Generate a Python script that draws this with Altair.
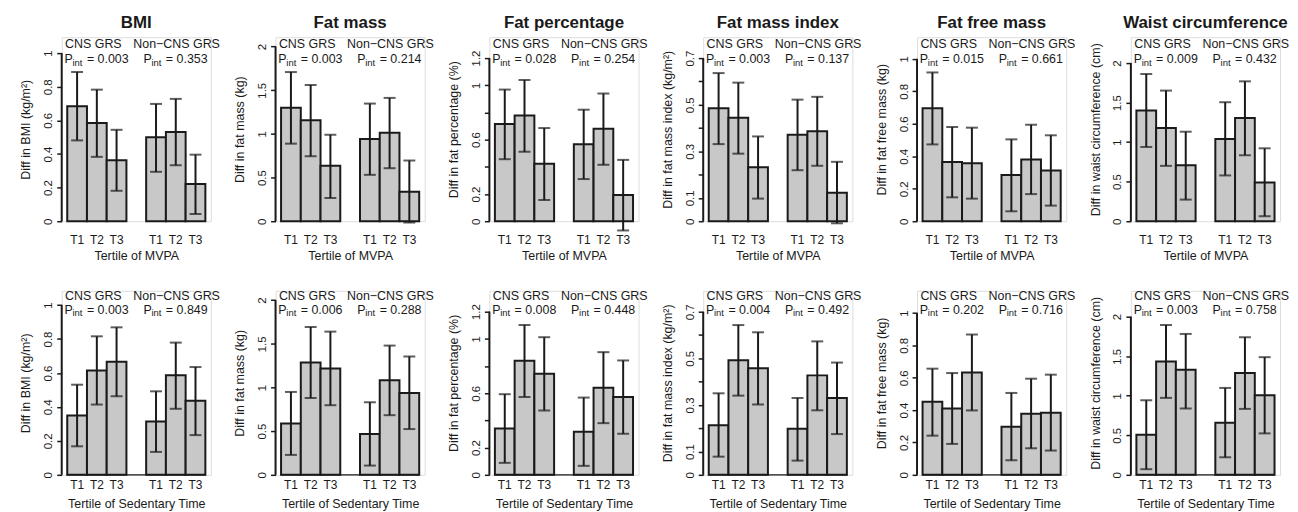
import altair as alt
import pandas as pd

# ---------------- data ----------------
measures = ["BMI", "Fat mass", "Fat percentage", "Fat mass index",
            "Fat free mass", "Waist circumference"]
y_titles = ["Diff in BMI (kg/m²)", "Diff in fat mass (kg)",
            "Diff in fat percentage (%)", "Diff in fat mass index (kg/m²)",
            "Diff in fat free mass (kg)", "Diff in waist circumference (cm)"]
x_titles = ["Tertile of MVPA", "Tertile of Sedentary Time"]
groups = ["CNS GRS", "Non−CNS GRS"]
tertiles = ["T1", "T2", "T3"]

# order in each list: CNS T1, T2, T3, Non-CNS T1, T2, T3
mvpa_est = [[0.684, 0.584, 0.363, 0.499, 0.531, 0.221],
            [1.298, 1.157, 0.634, 0.941, 1.013, 0.338],
            [0.715, 0.778, 0.422, 0.566, 0.680, 0.193],
            [0.485, 0.444, 0.232, 0.371, 0.386, 0.122],
            [0.696, 0.365, 0.357, 0.284, 0.380, 0.312],
            [1.400, 1.178, 0.709, 1.040, 1.304, 0.491]]
mvpa_lo = [[0.481, 0.383, 0.181, 0.294, 0.333, 0.043],
           [0.888, 0.744, 0.266, 0.531, 0.607, -0.015],
           [0.456, 0.510, 0.156, 0.310, 0.415, -0.068],
           [0.331, 0.290, 0.097, 0.219, 0.238, -0.009],
           [0.473, 0.147, 0.139, 0.061, 0.167, 0.096],
           [0.939, 0.700, 0.273, 0.579, 0.834, 0.063]]
mvpa_hi = [[0.888, 0.783, 0.544, 0.698, 0.728, 0.396],
           [1.708, 1.560, 0.990, 1.347, 1.412, 0.695],
           [0.968, 1.039, 0.685, 0.820, 0.939, 0.451],
           [0.636, 0.595, 0.364, 0.522, 0.534, 0.255],
           [0.916, 0.580, 0.576, 0.504, 0.594, 0.529],
           [1.862, 1.652, 1.132, 1.505, 1.769, 0.922]]

sed_est = [[0.350, 0.615, 0.666, 0.314, 0.586, 0.436],
           [0.588, 1.287, 1.218, 0.467, 1.082, 0.937],
           [0.341, 0.839, 0.744, 0.317, 0.641, 0.573],
           [0.213, 0.492, 0.458, 0.198, 0.427, 0.330],
           [0.451, 0.410, 0.633, 0.297, 0.377, 0.383],
           [0.507, 1.434, 1.329, 0.658, 1.287, 1.006]]
sed_lo = [[0.168, 0.414, 0.463, 0.135, 0.389, 0.234],
          [0.228, 0.880, 0.797, 0.106, 0.683, 0.524],
          [0.088, 0.573, 0.473, 0.066, 0.380, 0.302],
          [0.078, 0.340, 0.302, 0.061, 0.277, 0.175],
          [0.242, 0.191, 0.398, 0.090, 0.164, 0.150],
          [0.071, 0.973, 0.839, 0.222, 0.834, 0.524]]
sed_hi = [[0.531, 0.816, 0.869, 0.492, 0.779, 0.635],
          [0.949, 1.693, 1.640, 0.831, 1.480, 1.355],
          [0.593, 1.102, 1.012, 0.568, 0.902, 0.841],
          [0.350, 0.643, 0.612, 0.330, 0.573, 0.482],
          [0.656, 0.629, 0.867, 0.506, 0.594, 0.619],
          [0.943, 1.895, 1.782, 1.099, 1.740, 1.488]]

mvpa_p = [["0.003", "0.353"], ["0.003", "0.214"], ["0.028", "0.254"],
          ["0.003", "0.137"], ["0.015", "0.661"], ["0.009", "0.432"]]
sed_p = [["0.003", "0.849"], ["0.006", "0.288"], ["0.008", "0.448"],
         ["0.004", "0.492"], ["0.202", "0.716"], ["0.003", "0.758"]]

y_ticks = [[0, 0.2, 0.4, 0.6, 0.8, 1],
           [0, 0.5, 1, 1.5, 2],
           [0, 0.2, 0.4, 0.6, 0.8, 1, 1.2],
           [0, 0.1, 0.2, 0.3, 0.4, 0.5, 0.6, 0.7],
           [0, 0.2, 0.4, 0.6, 0.8, 1],
           [0, 0.5, 1, 1.5, 2]]
y_unlabeled = [[], [], [0.4, 0.8], [0.2, 0.4, 0.6], [], []]

# upper end of the y range of each panel (R ylim)
y_lim = [[1.095, 2.107, 1.353, 0.790, 1.133, 2.327],
         [1.084, 2.107, 1.353, 0.790, 1.137, 2.327]]

EST = [mvpa_est, sed_est]
LO = [mvpa_lo, sed_lo]
HI = [mvpa_hi, sed_hi]
PV = [mvpa_p, sed_p]

# ---------------- styling ----------------
FONT = "Liberation Sans"
INK = "#1a1a1a"
FILL = "#c8c8c8"
W, H = 150, 185

slots = [f"{groups[0]} {t}" for t in tertiles] + ["gap"] + \
        [f"{groups[1]} {t}" for t in tertiles]
bar_slots = [s for s in slots if s != "gap"]

row_cfg = [
    dict(lab_pad=18, title_y=35, grp_y=7.3, p_y=22.0),
    dict(lab_pad=10, title_y=29, grp_y=5.0, p_y=19.3),
]


def panel(r, c):
    cfg = row_cfg[r]
    df = pd.DataFrame({"slot": bar_slots, "est": EST[r][c],
                       "lo": LO[r][c], "hi": HI[r][c]})
    xs = alt.Scale(domain=slots, paddingInner=0, paddingOuter=0.28)
    ys = alt.Scale(domain=[0, y_lim[r][c]], nice=False, zero=False)

    hidden = y_unlabeled[c]
    if hidden:
        cond = " || ".join(f"abs(datum.value - {h}) < 1e-9" for h in hidden)
        lab_expr = f"({cond}) ? '' : datum.label"
    else:
        lab_expr = "datum.label"

    yaxis = alt.Axis(values=y_ticks[c], format="~g", labelExpr=lab_expr,
                     domain=False, grid=False, tickSize=5, tickWidth=1.5,
                     tickColor=INK, labelAngle=270, labelAlign="center",
                     labelBaseline="bottom", labelPadding=3,
                     labelOverlap=False, labelFlush=False,
                     labelFontSize=11.5, labelColor=INK, labelFont=FONT,
                     title=y_titles[c], titleX=-36, titleBaseline="middle",
                     titleFontSize=12.5, titleFontWeight="normal",
                     titleColor=INK, titleFont=FONT)
    xaxis = alt.Axis(labelExpr="datum.value == 'gap' ? '' : slice(datum.value, -2)",
                     domain=False, ticks=False, tickSize=0, labelAngle=0,
                     labelPadding=cfg["lab_pad"], labelBaseline="middle",
                     labelFontSize=12, labelColor=INK, labelOverlap=False,
                     labelFont=FONT, grid=False,
                     title=x_titles[r], titleY=cfg["title_y"],
                     titleBaseline="middle", titleFontSize=12.5,
                     titleFontWeight="normal", titleColor=INK, titleFont=FONT)

    X = alt.X("slot:N", scale=xs, sort=slots, axis=xaxis)

    def Y(field):
        return alt.Y(field, scale=ys, axis=yaxis)

    base = alt.Chart(df)
    bars = base.mark_bar(fill=FILL, stroke=INK, strokeWidth=2).encode(
        x=X, y=Y("est:Q"))
    err = base.mark_rule(color=INK, strokeWidth=2).encode(
        x=X, y=Y("lo:Q"), y2="hi:Q")
    cap_hi = base.mark_tick(color=INK, orient="horizontal", size=12,
                            thickness=2).encode(x=X, y=Y("hi:Q"))
    cap_lo = base.mark_tick(color=INK, orient="horizontal", size=12,
                            thickness=2).encode(x=X, y=Y("lo:Q"))

    ax_df = pd.DataFrame({"lo": [y_ticks[c][0]], "hi": [y_ticks[c][-1]]})
    ax_line = alt.Chart(ax_df).mark_rule(color=INK, strokeWidth=2).encode(
        x=alt.value(0), y=Y("lo:Q"), y2="hi:Q")

    layers = [bars, err, cap_hi, cap_lo, ax_line]

    if r == 1:
        zero_df = pd.DataFrame({"est": [0]})
        baseline = alt.Chart(zero_df).mark_rule(color=INK, strokeWidth=1.2).encode(
            x=alt.value(5), x2=alt.value(145), y=Y("est:Q"))
        layers.insert(0, baseline)

    tdf = pd.DataFrame({"slot": [f"{g} T2" for g in groups],
                        "grp": groups,
                        "pval": [f"= {p}" for p in PV[r][c]]})
    tbase = alt.Chart(tdf)
    for gi, dx in enumerate([-3.5, 0.8]):
        layers.append(
            tbase.transform_filter(alt.datum.grp == groups[gi])
            .mark_text(font=FONT, fontSize=12.5, color=INK, align="center",
                       baseline="middle", dx=dx)
            .encode(x=X, y=alt.value(cfg["grp_y"]), text="grp:N"))
    layers.append(tbase.mark_text(text="P", font=FONT, fontSize=12.5, color=INK,
                                  align="left", baseline="middle", dx=-32.5)
                  .encode(x=X, y=alt.value(cfg["p_y"])))
    layers.append(tbase.mark_text(text="int", font=FONT, fontSize=9.5, color=INK,
                                  align="left", baseline="middle", dx=-24.5)
                  .encode(x=X, y=alt.value(cfg["p_y"] + 3.5)))
    layers.append(tbase.mark_text(font=FONT, fontSize=12.5, color=INK,
                                  align="left", baseline="middle", dx=-10)
                  .encode(x=X, y=alt.value(cfg["p_y"]), text="pval:N"))

    props = dict(width=W, height=H)
    if r == 0:
        props["title"] = alt.Title(measures[c], font=FONT, fontSize=17,
                                   fontWeight="bold", color=INK, anchor="middle",
                                   frame="group", offset=5)
    return alt.layer(*layers).properties(**props)


panels = [panel(r, c) for r in range(2) for c in range(6)]

chart = alt.concat(*panels, columns=6, bounds="flush",
                   spacing=alt.RowColnumber(row=70, column=65)).properties(
    padding={"left": 11, "top": 4, "right": 0, "bottom": 0}
).configure_view(strokeWidth=0, strokeOpacity=0).configure(font=FONT)

chart.save("out.html", embed_options={"renderer": "svg", "actions": False})
